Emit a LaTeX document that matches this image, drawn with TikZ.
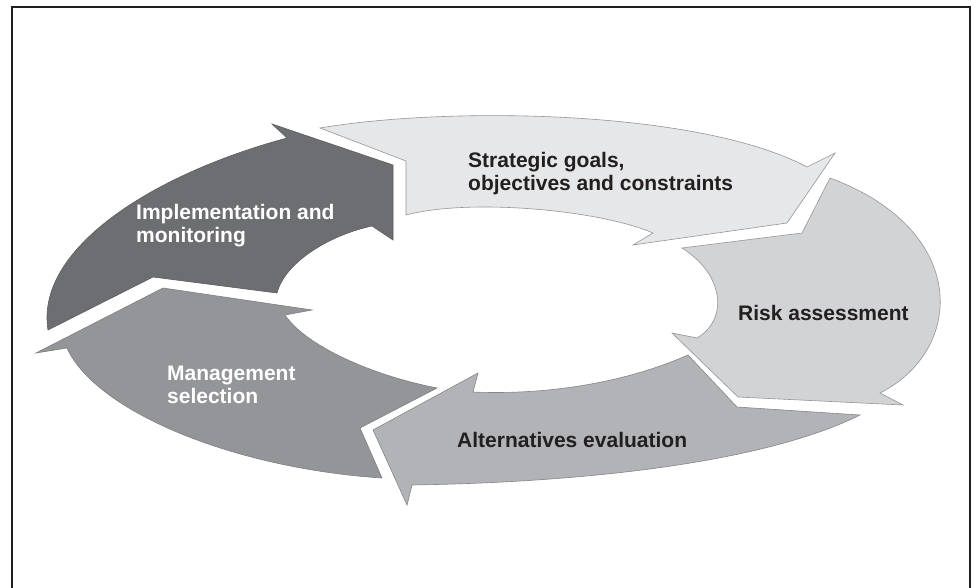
\documentclass[tikz,border=0pt]{standalone}
\usepackage{fontspec}
\setmainfont{Liberation Sans}
\definecolor{cA}{HTML}{E6E7E8}
\definecolor{cB}{HTML}{D1D3D4}
\definecolor{cC}{HTML}{B1B3B6}
\definecolor{cD}{HTML}{939598}
\definecolor{cE}{HTML}{6D6E71}
\definecolor{ink}{HTML}{231F20}
\tikzset{
  seg/.style={line width=0.6pt, line join=miter},
  lbl/.style={font=\fontsize{21}{23}\selectfont\bfseries, align=left, inner sep=0pt, anchor=base west},
}
\begin{document}
\begin{tikzpicture}[x=1pt,y=-1pt]
\useasboundingbox (0,0) rectangle (974,588);
\fill[white] (0,0) rectangle (974,588);
% frame
\draw[line width=1.6pt, ink] (12,590) -- (12,7) -- (970,7) -- (970,590);
% Strategic goals arrow
\path[seg, fill=cA, draw=cD] (320,128) .. controls (450,106) and (700,110) .. (807,167) -- (835,153) -- (787,223) -- (633,245) -- (653,233) .. controls (600,210) and (470,198) .. (406,215) -- (406,161) -- cycle;
% Risk assessment arrow
\path[seg, fill=cB, draw=cD] (830,178) -- (802,233) -- (682,248) .. controls (725,275) and (728,320) .. (697,338) -- (672,333) -- (738,397) -- (903,405) -- (880,393) .. controls (965,350) and (970,230) .. (830,178) -- cycle;
% Alternatives evaluation arrow
\path[seg, fill=cC, draw=cD!90!black] (860,415) -- (737,407) -- (688,355) .. controls (620,385) and (540,395) .. (473,392) -- (478,373) -- (373,430) -- (407,505) -- (412,485) .. controls (600,482) and (770,460) .. (860,415) -- cycle;
% Management selection arrow
\path[seg, fill=cD, draw=cD!85!black] (382,478) -- (360,428) -- (437,388) .. controls (370,375) and (305,345) .. (285,315) -- (312,310) -- (163,288) -- (36,353) -- (67,348) .. controls (95,410) and (230,468) .. (382,478) -- cycle;
% Implementation and monitoring arrow
\path[seg, fill=cE, draw=cE!85!black] (48,330) -- (153,277) -- (277,293) .. controls (285,262) and (330,235) .. (372,226) -- (393,240) -- (393,165) -- (272,124) -- (287,138) .. controls (150,175) and (35,250) .. (48,330) -- cycle;
% labels (base = baseline of the last line)
\node[lbl, text=ink] (goals) at (468,191) {Strategic goals,\\objectives and constraints};
\node[lbl, text=ink] (risk) at (738,320) {Risk assessment};
\node[lbl, text=ink] (alt) at (457,447) {Alternatives evaluation};
\node[lbl, text=white] (mgmt) at (167,403) {Management\\selection};
\node[lbl, text=white] (impl) at (136,242) {Implementation and\\monitoring};
\end{tikzpicture}
\end{document}
